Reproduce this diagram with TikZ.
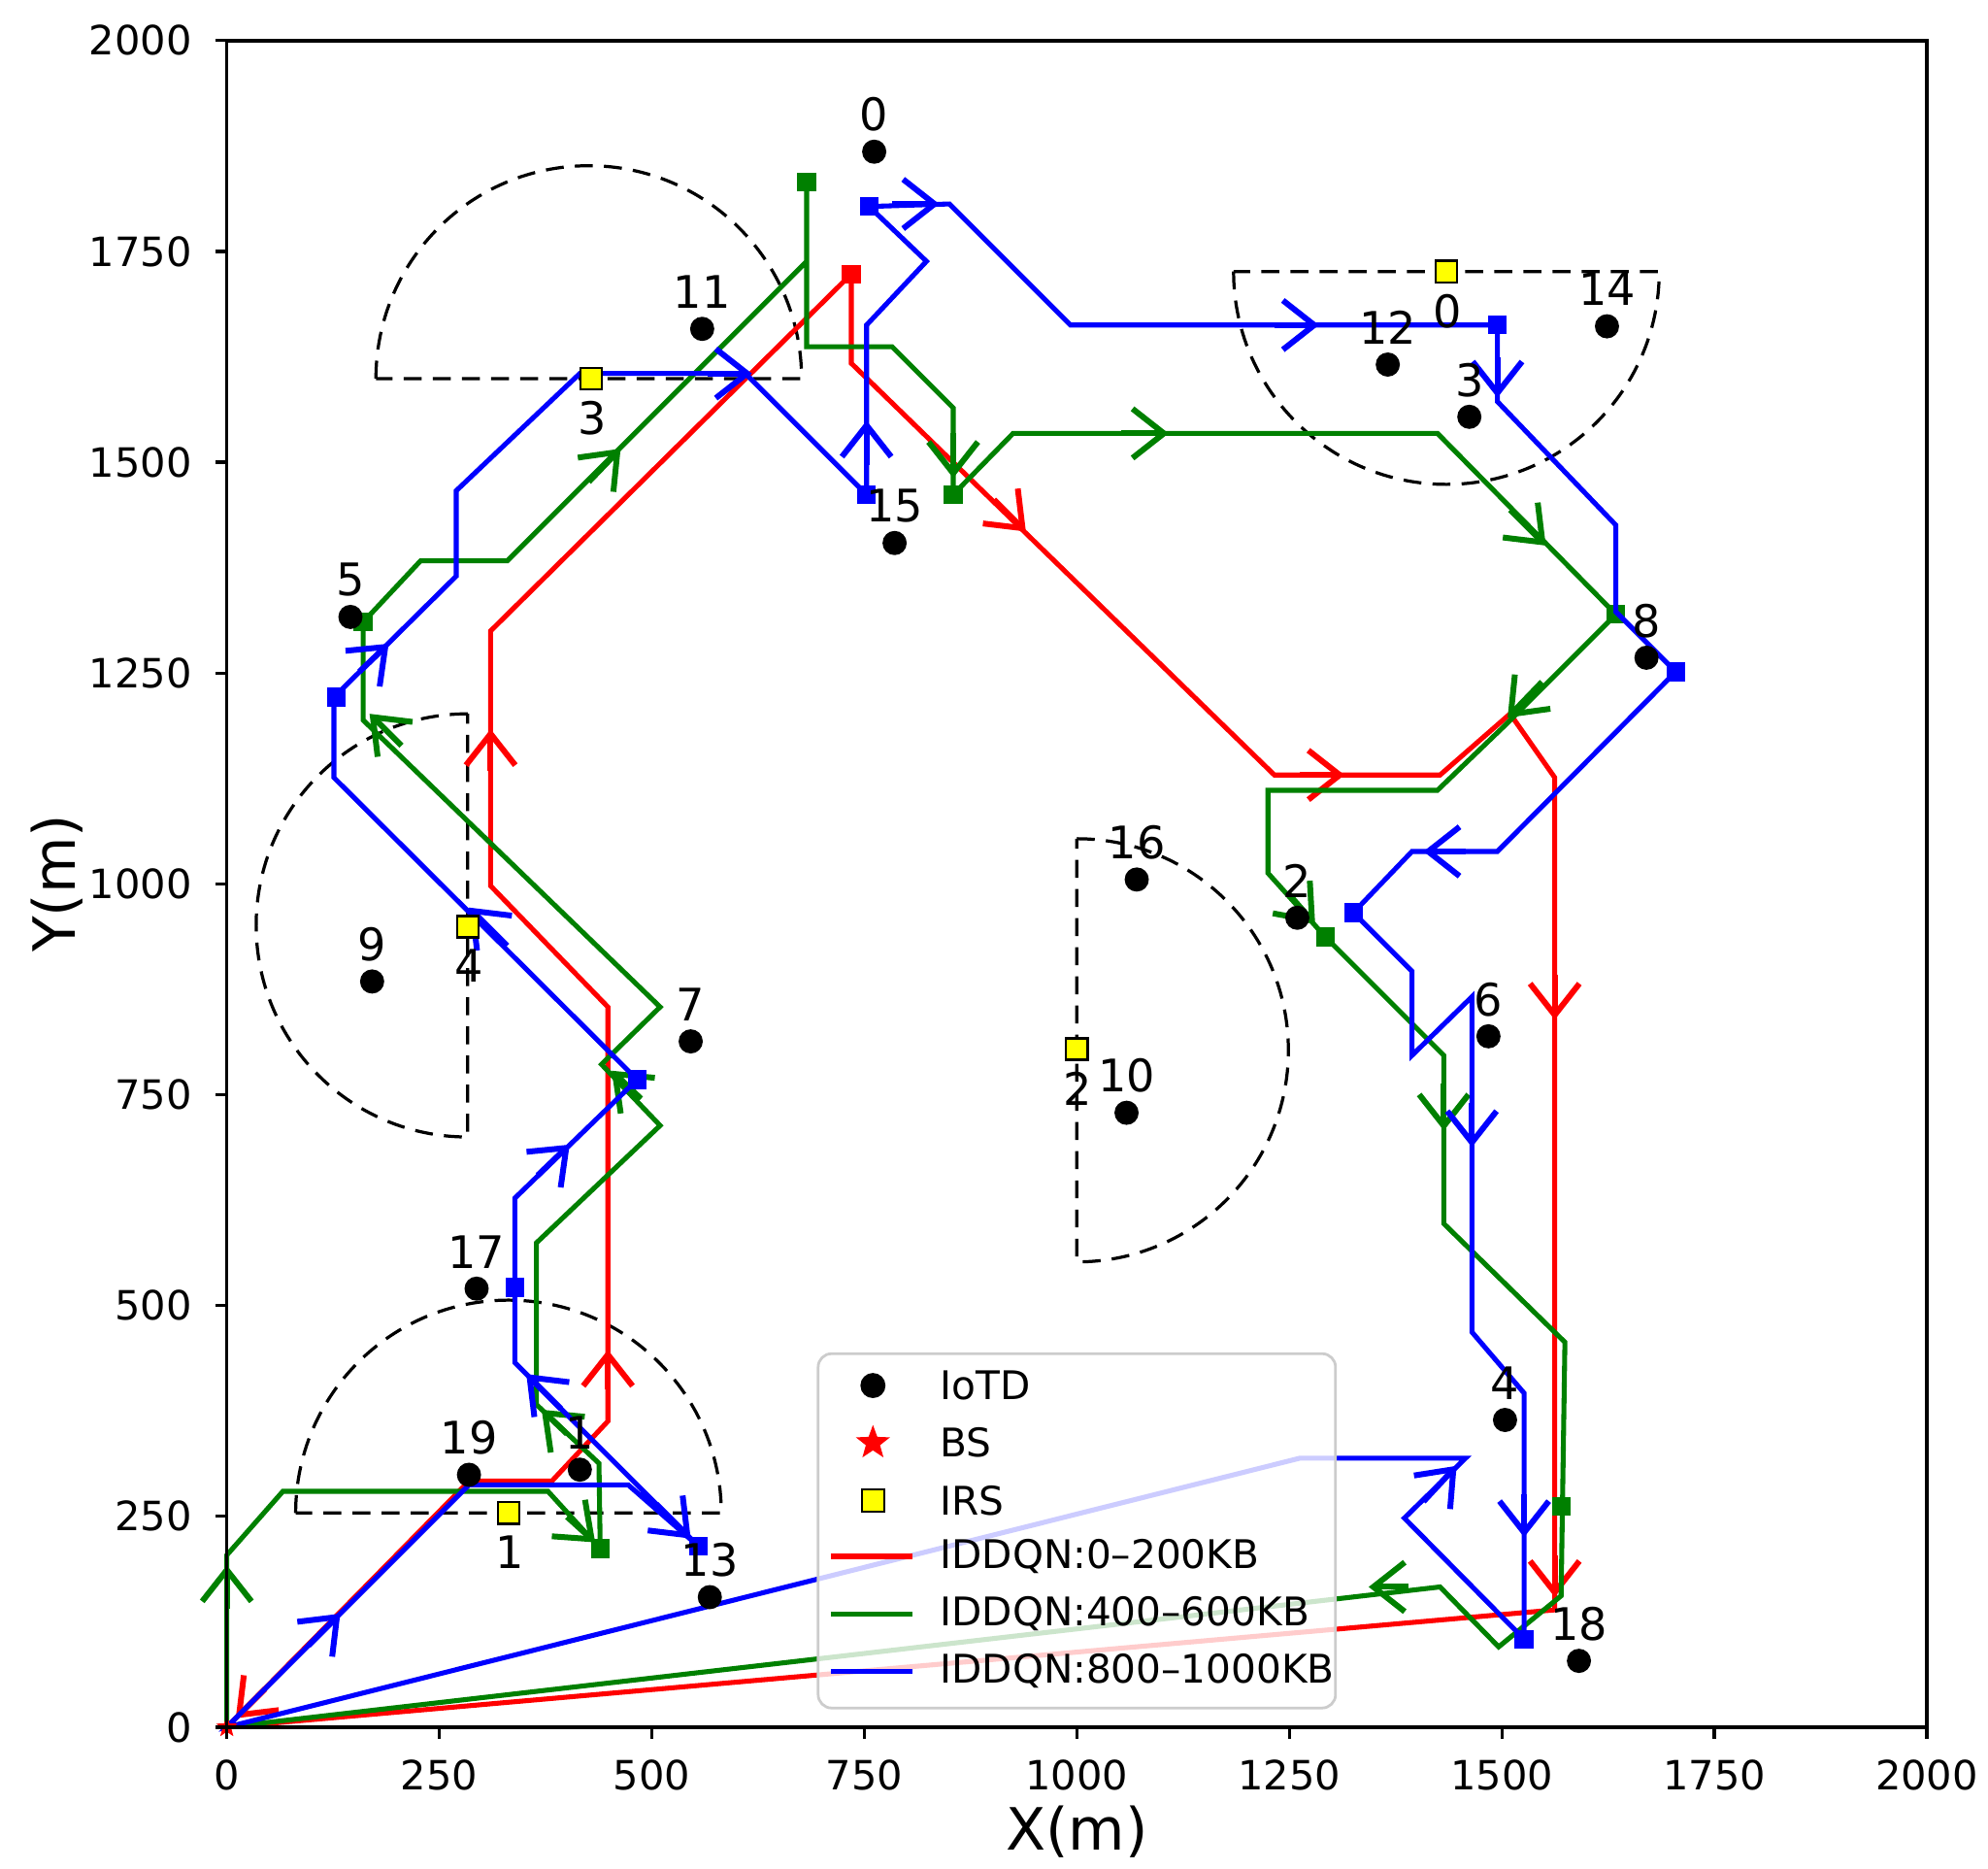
\documentclass[tikz,border=0pt]{standalone}
\usepackage{fontspec}
\setmainfont{DejaVu Sans}
\usetikzlibrary{arrows.meta,shapes.geometric}
\definecolor{mgreen}{RGB}{0,128,0}
\definecolor{mblue}{RGB}{0,0,255}
\definecolor{mred}{RGB}{255,0,0}
\definecolor{irsy}{RGB}{255,255,0}
\begin{document}
\begin{tikzpicture}[x=0.01cm,y=-0.01cm,
  path/.style={line width=1.1pt,line join=miter},
  arw/.style={line width=1.3pt,-{Straight Barb[length=7pt,width=11pt,line width=1.3pt]}},
  cov/.style={line width=0.7pt,dash pattern=on 4pt off 2.5pt},
  dev/.style={circle,fill=black,inner sep=0pt,minimum size=5.4pt},
  irs/.style={rectangle,fill=irsy,draw=black,line width=0.5pt,inner sep=0pt,minimum size=4.8pt},
  sq/.style={rectangle,inner sep=0pt,minimum size=4.2pt},
  lab/.style={font=\fontsize{10}{10}\selectfont},
  leg/.style={font=\fontsize{8.8}{8.8}\selectfont,anchor=west,inner sep=0pt},
  tk/.style={font=\fontsize{9}{9}\selectfont}]
\useasboundingbox (0,0) rectangle (1560,1466);
% coverage regions
\draw[cov] (295,297) arc[start angle=180,end angle=360,radius=167] -- cycle;
\draw[cov] (968,213) arc[start angle=180,end angle=0,radius=167] -- cycle;
\draw[cov] (367,560) arc[start angle=270,end angle=90,radius=166] -- cycle;
\draw[cov] (845,658) arc[start angle=270,end angle=450,radius=166] -- cycle;
\draw[cov] (232,1187) arc[start angle=180,end angle=360,radius=167] -- cycle;
% red path
\draw[path,mred] (178,1355) -- (368,1162) -- (433,1162) -- (477,1115) -- (477,790) -- (385,695) -- (385,495) -- (668,215) -- (668,285) -- (1000,608) -- (1130,608) -- (1185,560) -- (1220,610) -- (1220,1263) -- cycle;
\node[sq,fill=mred] (rs1) at (668,215) {};
\draw[arw,mred] (208,1325) -- (185,1348);
\draw[arw,mred] (477,1090) -- (477,1059);
\draw[arw,mred] (385,605) -- (385,572);
\draw[arw,mred] (780,392) -- (805,417);
\draw[arw,mred] (1020,608) -- (1055,608);
\draw[arw,mred] (1220,765) -- (1220,800);
\draw[arw,mred] (1220,1220) -- (1220,1253);
% green path
\draw[path,mgreen] (178,1355) -- (178,1220) -- (222,1170) -- (430,1170) -- (471,1215) -- (470,1148) -- (421,1102) -- (421,975) -- (518,883) -- (472,835) -- (518,790) -- (285,565) -- (285,488) -- (330,440) -- (398,440) -- (633,205) -- (633,143) -- (633,272) -- (700,272) -- (748,320) -- (748,388) -- (795,340) -- (1128,340) -- (1268,482) -- (1180,570) -- (1128,620) -- (995,620) -- (995,685) -- (1040,735) -- (1133,828) -- (1133,960) -- (1228,1053) -- (1225,1252) -- (1176,1292) -- (1130,1245) -- cycle;
\foreach \p in {(633,143),(748,388),(285,488),(471,1215),(1040,735),(1268,482),(1225,1182)}
  \node[sq,fill=mgreen] at \p {};
\draw[arw,mgreen] (178,1262) -- (178,1228);
\draw[arw,mgreen] (445,1190) -- (467,1210);
\draw[arw,mgreen] (445,1125) -- (425,1106);
\draw[arw,mgreen] (503,862) -- (480,840);
\draw[arw,mgreen] (315,585) -- (290,560);
\draw[arw,mgreen] (462,378) -- (487,352);
\draw[arw,mgreen] (748,340) -- (748,375);
\draw[arw,mgreen] (880,340) -- (917,340);
\draw[arw,mgreen] (1185,400) -- (1213,428);
\draw[arw,mgreen] (1210,535) -- (1183,563);
\draw[arw,mgreen] (1010,700) -- (1032,725);
\draw[arw,mgreen] (1133,850) -- (1133,887);
\draw[arw,mgreen] (1105,1245) -- (1074,1245);
% blue path
\draw[path,mblue] (178,1355) -- (368,1165) -- (493,1165) -- (548,1213) -- (404,1069) -- (404,940) -- (500,847) -- (262,610) -- (262,547) -- (358,452) -- (358,385) -- (455,293) -- (585,293) -- (680,388) -- (680,255) -- (727,205) -- (682,162) -- (745,160) -- (840,255) -- (1175,255) -- (1175,315) -- (1268,412) -- (1268,480) -- (1315,527) -- (1175,668) -- (1108,668) -- (1062,716) -- (1108,762) -- (1108,828) -- (1155,782) -- (1155,1045) -- (1196,1093) -- (1196,1286) -- (1102,1191) -- (1150,1144) -- (1020,1144) -- cycle;
\foreach \p in {(548,1213),(404,1010),(500,847),(264,547),(680,388),(682,162),(1175,255),(1315,527),(1062,716),(1196,1286)}
  \node[sq,fill=mblue] at \p {};
\draw[arw,mblue] (242,1291) -- (267,1266);
\draw[arw,mblue] (515,1180) -- (542,1207);
\draw[arw,mblue] (440,1105) -- (413,1078);
\draw[arw,mblue] (422,922) -- (447,898);
\draw[arw,mblue] (398,742) -- (368,712);
\draw[arw,mblue] (282,527) -- (305,505);
\draw[arw,mblue] (555,293) -- (590,293);
\draw[arw,mblue] (680,365) -- (680,330);
\draw[arw,mblue] (700,160) -- (737,160);
\draw[arw,mblue] (1000,255) -- (1035,255);
\draw[arw,mblue] (1175,280) -- (1175,312);
\draw[arw,mblue] (1150,668) -- (1117,668);
\draw[arw,mblue] (1155,865) -- (1155,900);
\draw[arw,mblue] (1196,1172) -- (1196,1206);
\draw[arw,mblue] (1117,1178) -- (1143,1150);
% IoTDs
\foreach \n/\x/\y in {0/686/119,1/455/1153,2/1018/720,3/1153/327,4/1181/1114,5/275/484,6/1168/813,7/542/817,8/1292/516,9/292/770,10/884/873,11/551/258,12/1089/286,13/557/1253,14/1261/256,15/702/426,16/892/690,17/374/1011,18/1239/1303,19/368/1157}{
  \node[dev] (d\n) at (\x,\y) {};
  \node[lab] at (\x,\y-29) {\n};}
% IRS
\foreach \n/\x/\y in {0/1135/213,1/399/1187,2/845/823,3/464/297,4/367/727}{
  \node[irs] (i\n) at (\x,\y) {};
  \node[lab] at (\x+1,\y+31) {\n};}
% BS
\node[star,star points=5,star point ratio=2.4,fill=mred,inner sep=0pt,minimum size=5pt] (bs) at (178,1355) {};
% axes
\draw[line width=0.7pt] (178,32) rectangle (1512,1355);
\foreach \k/\t in {0/0,1/250,2/500,3/750,4/1000,5/1250,6/1500,7/1750,8/2000}{
  \draw[line width=0.7pt] ({178+\k*166.75},1355) -- ++(0,9);
  \node[tk,anchor=north] at ({178+\k*166.75},1368) {\t};
  \draw[line width=0.7pt] (178,{1355-\k*165.4}) -- ++(-9,0);
  \node[tk,anchor=east] at (163,{1355-\k*165.4}) {\t};}
\node[font=\fontsize{13}{13}\selectfont] at (845,1437) {X(m)};
\node[font=\fontsize{13}{13}\selectfont,rotate=90] at (45,693) {Y(m)};
% legend
\draw[rounded corners=3pt,draw=black!20,fill=white,fill opacity=0.8,line width=0.6pt] (642,1062) rectangle (1048,1340);
\node[dev,minimum size=5.6pt] (l1) at (685,1087) {};
\node[star,star points=5,star point ratio=2.4,fill=mred,inner sep=0pt,minimum size=8pt] (l2) at (685,1132) {};
\node[irs,minimum size=5pt] (l3) at (685,1177) {};
\draw[path,mred] (652,1221) -- (716,1221);
\draw[path,mgreen] (652,1266) -- (716,1266);
\draw[path,mblue] (652,1311) -- (716,1311);
\foreach \y/\t in {1087/IoTD,1132/BS,1177/IRS,1221/IDDQN:0–200KB,1266/IDDQN:400–600KB,1311/IDDQN:800–1000KB}
  \node[leg] at (737,\y) {\t};
\end{tikzpicture}
\end{document}
